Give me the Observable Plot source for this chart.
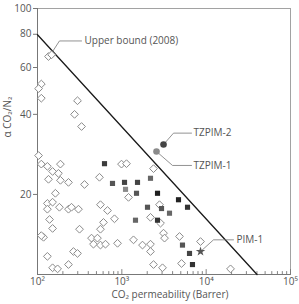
<!DOCTYPE html>
<html>
<head>
<meta charset="utf-8">
<script src="https://cdn.jsdelivr.net/npm/d3@7"></script>
<script src="https://cdn.jsdelivr.net/npm/@observablehq/plot@0.6"></script>
<style>
  html, body { margin: 0; padding: 0; background: #fff; }
</style>
</head>
<body>
<div id="chart"></div>
<script>
// CO2 permeability (Barrer) and CO2/N2 selectivity, one [P, alpha] pair per membrane

// Literature polymers (open diamonds)
const literaturePolymers = [
  [135, 66], [147, 67], [111, 52], [103, 50], [111, 46], [298, 45], [275, 40], [333, 36],
  [103, 28], [111, 26], [131, 25.5], [151, 24.4], [187, 26], [177, 24], [135, 22.8], [187, 22.6],
  [233, 22.2], [361, 21.8], [543, 23.2], [991, 26], [1136, 26.1], [1200, 19.5],
  [163, 20.2], [131, 18.5], [131, 17.6], [151, 18.7], [182, 17.9], [233, 17.6], [253, 17.9],
  [306, 17.6], [558, 18.3], [676, 17.4], [818, 16.2], [606, 15.7],
  [139, 16.1], [151, 14.9], [118, 13.8], [111, 14.0], [315, 14.8], [558, 14.8], [437, 13.7],
  [514, 13.7], [461, 13.0], [558, 12.9], [640, 13.0], [889, 13.1], [1375, 13.5], [1758, 12.9],
  [2187, 13.0], [2187, 12.2], [267, 12.2], [298, 12.0], [131, 11.7], [233, 10.9], [151, 10.6],
  [173, 10.5], [2375, 25], [2798, 18.3], [2187, 16.4], [2876, 15.6], [3121, 14.3], [3208, 13.7],
  [4830, 13.9], [8570, 13.3], [5105, 11.0], [2375, 10.9], [3037, 10.6], [19450, 10.5]
];

// Other PIM-type membranes (filled squares)
const pimMembranes = [
  [623, 26.1], [775, 22.0], [1076, 22.2], [1106, 20.9], [1534, 22.2], [2187, 23.0],
  [1493, 20.2], [2649, 20.2], [2015, 17.9], [2955, 17.7], [3675, 17.0], [4698, 19.1],
  [6010, 17.9], [1452, 16.0], [2649, 16.0], [5238, 12.9], [6345, 12.0], [6880, 10.9]
];
const pimShades = [
  "#3c3c3c", "#555", "#444", "#8a8a8a", "#444", "#666",
  "#555", "#1e1e1e", "#555", "#555", "#666", "#222",
  "#333", "#666", "#333", "#555", "#444", "#333"
];

// Named membranes
const tzpimNames = ["TZPIM-2", "TZPIM-1"];
const tzpimValues = [[3121, 30.8], [2577, 29.0]];
const pim1Value = [8570, 12.2];

// Robeson upper bound (2008), end points within the plotted range
const upperBound = [[100, 79.7], [40100, 10]];

// Axis ticks
const yTicks = [20, 40, 60, 80, 100];
const xTicks = [1e2, 1e3, 1e4, 1e5];
const xTickLabels = ["10²", "10³", "10⁴", "10⁵"];
const xMinorTicks = [1e2, 1e3, 1e4].flatMap(d => [2, 3, 4, 5, 6, 7, 8, 9].map(m => m * d));

// Callout leaders: anchor → elbow → end, then the label
const callouts = [
  {label: "Upper bound (2008)", path: [[151, 68.9], [182, 75.5], [333, 75.5]], text: [361, 75.5]},
  {label: tzpimNames[0], path: [tzpimValues[0], [4100, 34.0], [6702, 34.0]], text: [7078, 34.0]},
  {label: tzpimNames[1], path: [tzpimValues[1], [3990, 25.7], [6702, 25.7]], text: [7078, 25.7]},
  {label: "PIM-1", path: [pim1Value, [12220, 13.5], [21090, 13.5]], text: [22900, 13.5]}
];
const leaderPts = callouts.flatMap((c, i) => c.path.map(([x, y]) => ({id: i, x, y})));

// Short upward tick drawn from the bottom edge of the frame
const innerTick = {
  draw(context, l) {
    context.moveTo(0, 0);
    context.lineTo(0, -l);
  }
};

const ink = "#555";

const chart = Plot.plot({
  width: 299,
  height: 304,
  marginTop: 8,
  marginRight: 9,
  marginBottom: 30,
  marginLeft: 37,
  x: {type: "log", domain: [1e2, 1e5], axis: null},
  y: {type: "log", domain: [10, 100]},
  style: {fontFamily: "'Open Sans', sans-serif", fontSize: "10px", color: ink, background: "#fff"},
  marks: [
    Plot.frame({stroke: "#999", strokeWidth: 0.9}),
    Plot.ruleX([1e2], {stroke: "#777"}),
    Plot.ruleY([10], {stroke: "#777"}),
    Plot.axisY({ticks: yTicks, tickSize: 4, tickPadding: 2, label: null, tickFormat: d => String(d), stroke: "#777", fill: ink}),
    Plot.vector(xMinorTicks, {x: d => d, frameAnchor: "bottom", length: 3, anchor: "start", shape: innerTick, stroke: "#777", strokeWidth: 0.9}),
    Plot.vector(xTicks, {x: d => d, frameAnchor: "bottom", length: 5, anchor: "start", shape: innerTick, stroke: "#777", strokeWidth: 0.9}),
    Plot.text(xTicks, {x: d => d, frameAnchor: "bottom", dy: 10, text: (d, i) => xTickLabels[i], fill: ink, fontSize: 10}),
    Plot.text(["CO₂ permeability (Barrer)"], {frameAnchor: "bottom", dx: 6, dy: 23, fill: ink, fontSize: 10}),
    Plot.text(["α CO₂/N₂"], {frameAnchor: "left", dx: -30, dy: -4, rotate: -90, fill: ink, fontSize: 10}),
    Plot.line(upperBound, {x: d => d[0], y: d => d[1], stroke: "#1a1a1a", strokeWidth: 1.3}),
    Plot.dot(literaturePolymers, {x: d => d[0], y: d => d[1], symbol: "diamond2", r: 3.5, fill: "#fff", stroke: "#8a8a8a", strokeWidth: 1}),
    Plot.dot(pimMembranes, {x: d => d[0], y: d => d[1], symbol: "square", r: 2.9, fill: (d, i) => pimShades[i], stroke: "none"}),
    Plot.line(leaderPts, {x: "x", y: "y", z: "id", stroke: "#777", strokeWidth: 0.8}),
    Plot.dot(tzpimValues, {x: d => d[0], y: d => d[1], r: 3.3, fill: (d, i) => i === 0 ? "#444" : "#8a8a8a", stroke: "none"}),
    Plot.dot([pim1Value], {x: d => d[0], y: d => d[1], symbol: "star", r: 3, fill: "#555", stroke: "none"}),
    Plot.text(callouts, {x: d => d.text[0], y: d => d.text[1], text: "label", textAnchor: "start", fill: ink, fontSize: 10})
  ]
});

document.getElementById("chart").appendChild(chart);
</script>
</body>
</html>
